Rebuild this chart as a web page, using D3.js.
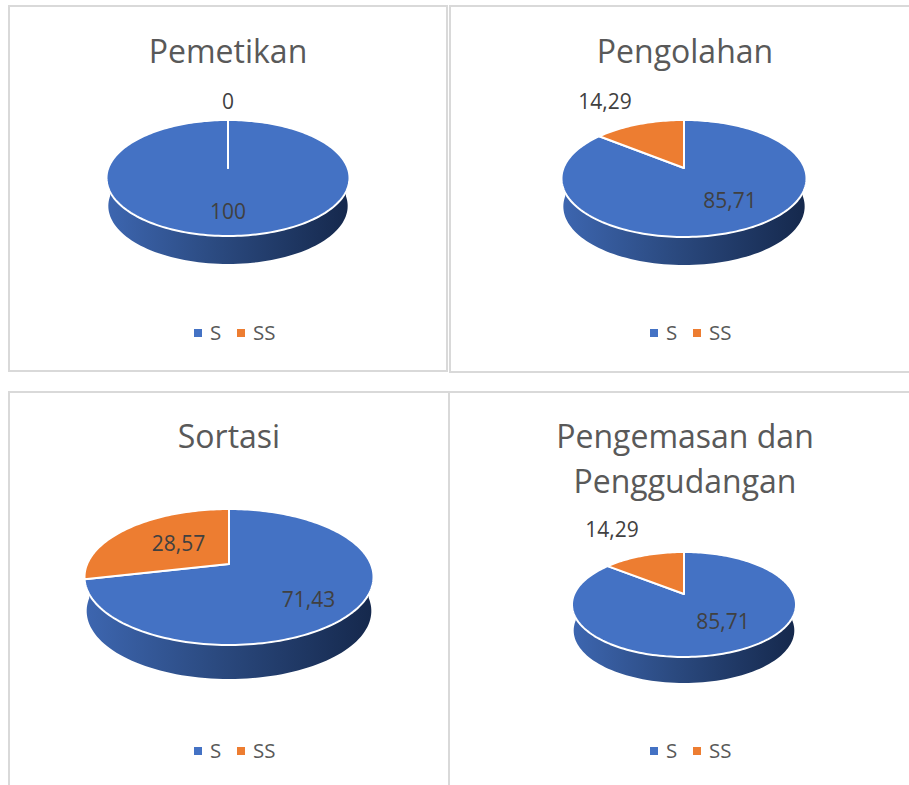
<!DOCTYPE html>
<html>
<head>
<meta charset="utf-8">
<script src="https://cdn.jsdelivr.net/npm/d3@7"></script>
<style>
  html, body { margin: 0; padding: 0; background: #fff; }
  svg { display: block; }
  text { font-family: "Open Sans", sans-serif; }
</style>
</head>
<body>
<div id="chart"></div>
<script>
var width = 909
var height = 785

// Values
var categories = ['S', 'SS']
var pemetikan = [100, 0]
var pengolahan = [85.71, 14.29]
var sortasi = [71.43, 28.57]
var pengemasan = [85.71, 14.29]
var allValues = [pemetikan, pengolahan, sortasi, pengemasan]
var titles = [['Pemetikan'], ['Pengolahan'], ['Sortasi'], ['Pengemasan dan', 'Penggudangan']]
var valueLabels = [['100', '0'], ['85,71', '14,29'], ['71,43', '28,57'], ['85,71', '14,29']]

// Layout of each panel, apexY is where the slices meet (tilted pie, not the ellipse middle)
var panels = [
  { box: [9, 6, 438, 365], cx: 228, apexY: 168, top: 120, bottom: 236, rx: 121.5, depth: 28,
    titleX: 228, titleY: 63, legendX: 194, legendY: 333,
    labels: [[228, 219], [228, 109]] },
  { box: [450, 6, 470, 366], cx: 684, apexY: 168, top: 120, bottom: 237, rx: 122.5, depth: 28,
    titleX: 685, titleY: 63, legendX: 650, legendY: 333,
    labels: [[730, 208], [605, 109]] },
  { box: [9, 392, 440, 410], cx: 229, apexY: 564, top: 509, bottom: 645, rx: 144.5, depth: 34,
    titleX: 229, titleY: 448, legendX: 194, legendY: 751,
    labels: [[308.5, 607], [178.5, 551]] },
  { box: [449, 392, 471, 410], cx: 684, apexY: 594, top: 552, bottom: 657, rx: 112, depth: 26,
    titleX: 685, titleY: 448, legendX: 650, legendY: 751,
    labels: [[723, 629], [612, 537]] }
]

var colorScale = d3.scaleOrdinal().domain(categories).range(['#4472c4', '#ed7d31'])
var pie = d3.pie().sort(null)

var svg = d3
  .select('#chart')
  .append('svg')
  .attr('width', width)
  .attr('height', height)

// Dark side wall gradient
var gradient = svg
  .append('defs')
  .append('linearGradient')
  .attr('id', 'wall')
  .attr('x1', 0)
  .attr('x2', 1)
  .attr('y1', 0)
  .attr('y2', 0)
gradient.append('stop').attr('offset', '0%').attr('stop-color', '#3d66b0')
gradient.append('stop').attr('offset', '45%').attr('stop-color', '#2b4a80')
gradient.append('stop').attr('offset', '100%').attr('stop-color', '#15284c')

// Circle to screen, with perspective so the front of the pie looks bigger
function projector(p) {
  var up = p.apexY - p.top
  var down = p.bottom - p.apexY
  var k = (up - down) / (up + down)
  var b = up * (1 - k)
  var a = p.rx * Math.sqrt(1 - k * k)
  return function(angle) {
    var u = Math.sin(angle)
    var v = -Math.cos(angle)
    var w = 1 + k * v
    return [p.cx + (a * u) / w, p.apexY + (b * v) / w]
  }
}

panels.forEach(function(p, i) {
  var project = projector(p)
  var g = svg.append('g')

  g.append('rect')
    .attr('x', p.box[0])
    .attr('y', p.box[1])
    .attr('width', p.box[2])
    .attr('height', p.box[3])
    .attr('fill', '#fff')
    .attr('stroke', '#d9d9d9')
    .attr('stroke-width', 2)

  // Titles
  g.selectAll('.title')
    .data(titles[i])
    .enter()
    .append('text')
    .attr('class', 'title')
    .attr('x', p.titleX)
    .attr('y', (d, j) => p.titleY + j * 45)
    .attr('text-anchor', 'middle')
    .attr('font-size', 32)
    .attr('fill', '#595959')
    .text(d => d)

  // Side wall: front half of the outline, pushed down by depth and a bit narrower
  var frontAngles = d3.range(Math.PI / 2, (3 * Math.PI) / 2 + 0.001, Math.PI / 90)
  var front = frontAngles.map(project)
  var shrink = 0.985
  var lower = front
    .map(d => [p.cx + (d[0] - p.cx) * shrink, d[1] + p.depth])
    .reverse()
  g.append('path')
    .attr('d', d3.line().curve(d3.curveLinear)(front.concat(lower)) + 'Z')
    .attr('fill', 'url(#wall)')

  // Top slices
  var slices = pie(allValues[i])
  g.selectAll('.slice')
    .data(slices)
    .enter()
    .append('path')
    .attr('class', 'slice')
    .attr('d', function(d) {
      var steps = Math.max(1, Math.ceil((d.endAngle - d.startAngle) / (Math.PI / 120)))
      var angles = d3.range(steps + 1).map(s => d.startAngle + ((d.endAngle - d.startAngle) * s) / steps)
      var outline = angles.map(project)
      return d3.line()([[p.cx, p.apexY]].concat(outline)) + 'Z'
    })
    .attr('fill', (d, j) => colorScale(categories[j]))
    .attr('stroke', '#fff')
    .attr('stroke-width', 2)
    .attr('stroke-linejoin', 'round')

  // Data labels
  g.selectAll('.value')
    .data(valueLabels[i])
    .enter()
    .append('text')
    .attr('class', 'value')
    .attr('x', (d, j) => p.labels[j][0])
    .attr('y', (d, j) => p.labels[j][1])
    .attr('text-anchor', 'middle')
    .attr('font-size', 21)
    .attr('fill', '#404040')
    .text(d => d)

  // Legend
  var legend = g
    .selectAll('.legend')
    .data(categories)
    .enter()
    .append('g')
    .attr('class', 'legend')
    .attr('transform', (d, j) => `translate(${p.legendX + j * 43}, ${p.legendY})`)
  legend
    .append('rect')
    .attr('x', 0)
    .attr('y', -4)
    .attr('width', 8)
    .attr('height', 8)
    .attr('fill', d => colorScale(d))
  legend
    .append('text')
    .attr('x', 16)
    .attr('y', 7)
    .attr('font-size', 20.5)
    .attr('fill', '#595959')
    .text(d => d)
})
</script>
</body>
</html>
